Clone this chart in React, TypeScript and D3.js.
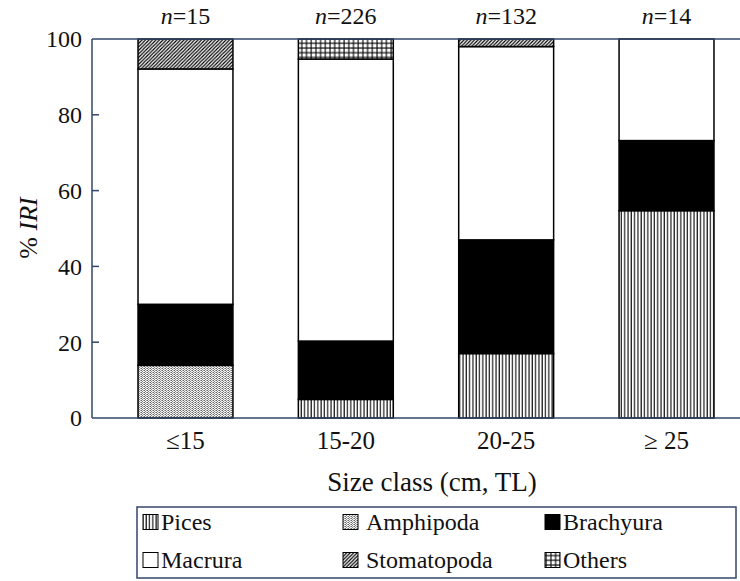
import React from "react";
import * as d3 from "d3";

const categories = ["≤15", "15-20", "20-25", "≥ 25"];
const sampleSizes = [15, 226, 132, 14];
const groups = ["Pices", "Amphipoda", "Brachyura", "Macrura", "Stomatopoda", "Others"];
const pices = [0, 4.9, 17, 54.7];
const amphipoda = [13.9, 0, 0, 0];
const brachyura = [16.1, 15.4, 30, 18.5];
const macrura = [62.1, 74.4, 51, 26.8];
const stomatopoda = [7.9, 0, 2, 0];
const others = [0, 5.3, 0, 0];
const yTicks = [0, 20, 40, 60, 80, 100];

const seriesValues: Record<string, number[]> = {
  Pices: pices,
  Amphipoda: amphipoda,
  Brachyura: brachyura,
  Macrura: macrura,
  Stomatopoda: stomatopoda,
  Others: others,
};

const fills: Record<string, string> = {
  Pices: "url(#pPices)",
  Amphipoda: "url(#pAmph)",
  Brachyura: "#000",
  Macrura: "#fff",
  Stomatopoda: "url(#pStom)",
  Others: "url(#pOth)",
};

const W = 740;
const H = 581;
const left = 92;
const top = 39;
const bottom = 418;
const axisColor = "#34466b";
const font = "Liberation Serif, Times New Roman, serif";

export default function App() {
  const x = d3
    .scaleBand<string>()
    .domain(categories)
    .range([left, 760])
    .paddingInner(0.408)
    .paddingOuter(0.287);
  const y = d3.scaleLinear().domain([0, 100]).range([bottom, top]);

  const table = categories.map((c, i) => {
    const row: any = { cat: c };
    groups.forEach((g) => (row[g] = seriesValues[g][i]));
    return row;
  });
  const stacked = d3.stack<any>().keys(groups)(table);

  const legendIconX = [143, 343, 545];
  const legendTextX = [161, 366, 563];
  const legendRows = [522, 560];
  const legendPos: Record<string, [number, number]> = {
    Pices: [0, 0],
    Amphipoda: [1, 0],
    Brachyura: [2, 0],
    Macrura: [0, 1],
    Stomatopoda: [1, 1],
    Others: [2, 1],
  };

  const txt = { fontFamily: font, fill: "#111" } as React.CSSProperties;

  return (
    <svg width={W} height={H} style={{ position: "absolute", left: 0, top: 0, fontFamily: font }}>
      <defs>
        <pattern id="pPices" patternUnits="userSpaceOnUse" width="3.3" height="4">
          <rect width="3.3" height="4" fill="#fff" />
          <line x1="1" y1="0" x2="1" y2="4" stroke="#000" strokeWidth="1.1" />
        </pattern>
        <pattern id="pAmph" patternUnits="userSpaceOnUse" width="3" height="2">
          <rect width="3" height="2" fill="#f2f2f2" />
          <rect width="1" height="1" fill="#666" />
          <rect x="1" y="1" width="1" height="1" fill="#888" />
          <rect x="2" y="0" width="1" height="1" fill="#aaa" />
        </pattern>
        <pattern id="pStom" patternUnits="userSpaceOnUse" width="3.5" height="3.5">
          <rect width="3.5" height="3.5" fill="#fff" />
          <path d="M-1,1 L1,-1 M0,3.5 L3.5,0 M2.5,4.5 L4.5,2.5" stroke="#000" strokeWidth="1.2" />
        </pattern>
        <pattern id="pOth" patternUnits="userSpaceOnUse" width="4.7" height="4.7">
          <rect width="4.7" height="4.7" fill="#fff" />
          <line x1="1" y1="0" x2="1" y2="4.7" stroke="#000" strokeWidth="1.1" />
          <line x1="0" y1="1" x2="4.7" y2="1" stroke="#000" strokeWidth="1.1" />
        </pattern>
      </defs>

      {stacked.map((s) => (
        <g key={s.key}>
          {s.map((d, i) =>
            d[1] - d[0] > 0 ? (
              <rect
                key={i}
                x={x(categories[i])!}
                y={y(d[1])}
                width={x.bandwidth()}
                height={y(d[0]) - y(d[1])}
                fill={fills[s.key]}
                stroke="#000"
                strokeWidth={1.5}
              />
            ) : null
          )}
        </g>
      ))}

      <line x1={left} y1={top} x2={W} y2={top} stroke={axisColor} strokeWidth={1.5} />
      <line x1={left} y1={bottom} x2={W} y2={bottom} stroke={axisColor} strokeWidth={1.5} />
      <line x1={left} y1={top} x2={left} y2={bottom} stroke={axisColor} strokeWidth={1.5} />

      {yTicks.map((t) => (
        <g key={t}>
          {t > 0 && t < 100 ? (
            <line x1={left} x2={left + 7} y1={y(t)} y2={y(t)} stroke={axisColor} strokeWidth={1.5} />
          ) : null}
          <text x={82} y={y(t)} dy="0.35em" textAnchor="end" fontSize={24} style={txt}>
            {t}
          </text>
        </g>
      ))}

      <text
        transform={`translate(28,228) rotate(-90)`}
        textAnchor="middle"
        dy="0.35em"
        fontSize={26}
        style={txt}
      >
        % <tspan fontStyle="italic">IRI</tspan>
      </text>

      {categories.map((c) => (
        <text
          key={c}
          x={x(c)! + x.bandwidth() / 2}
          y={449}
          textAnchor="middle"
          fontSize={25}
          style={txt}
        >
          {c}
        </text>
      ))}
      {categories.map((c, i) => (
        <text
          key={"n" + c}
          x={x(c)! + x.bandwidth() / 2}
          y={24}
          textAnchor="middle"
          fontSize={24}
          style={txt}
        >
          <tspan fontStyle="italic">n</tspan>={sampleSizes[i]}
        </text>
      ))}

      <text x={432} y={482} dy="0.35em" textAnchor="middle" fontSize={27} style={txt}>
        Size class (cm, TL)
      </text>

      <rect x={137} y={507} width={599} height={71} fill="#fff" stroke={axisColor} strokeWidth={1.5} />
      {groups.map((g) => {
        const [ci, ri] = legendPos[g];
        const cy = legendRows[ri];
        return (
          <g key={g}>
            <rect
              x={legendIconX[ci]}
              y={cy - 7.5}
              width={15}
              height={15}
              fill={fills[g]}
              stroke="#000"
              strokeWidth={1}
            />
            <text x={legendTextX[ci]} y={cy} dy="0.35em" fontSize={24} style={txt}>
              {g}
            </text>
          </g>
        );
      })}
    </svg>
  );
}
